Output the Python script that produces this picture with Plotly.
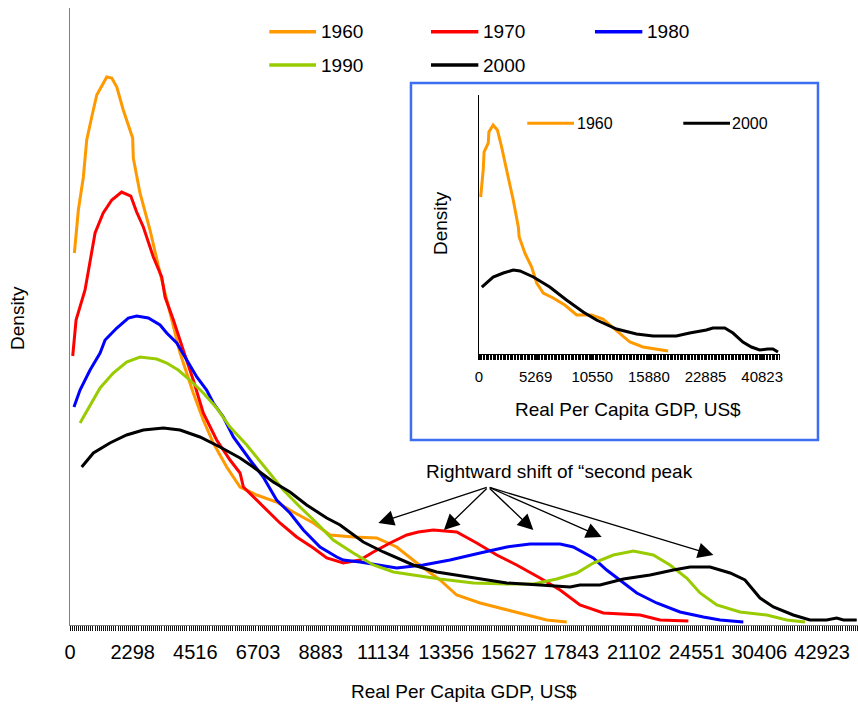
import plotly.graph_objects as go

# ---------------- data (main chart) ----------------
# x = position along the category axis (GDP category index), y = density (arbitrary units)
main_tick_pos = [0, 30, 60, 90, 120, 150, 180, 210, 240, 270, 300, 330, 360]
main_tick_labels = ["0", "2298", "4516", "6703", "8883", "11134", "13356",
                    "15627", "17843", "21102", "24551", "30406", "42923"]

x1960 = [2.1, 4.0, 6.4, 8.0, 10.4, 12.8, 17.6, 20.0, 22.4, 25.5, 30.0, 30.3, 33.5, 38.3,
         43.1, 47.9, 52.7, 59.0, 63.8, 68.6, 75.0, 81.4, 89.4, 98.9, 106.9, 116.5,
         124.5, 135.6, 146.8, 156.4, 166.0, 177.1, 185.1, 196.3, 209.1, 218.6, 228.2, 237.8]
y1960 = [372, 415, 448, 485, 508, 530, 548, 547, 538, 515, 487, 467, 432, 395,
         352, 312, 272, 232, 205, 182, 158, 138, 130, 123, 113, 102,
         90, 88, 87, 78, 62, 45, 30, 22, 15, 10, 5, 3]

x1970 = [1.3, 2.9, 7.2, 9.6, 12.0, 15.9, 20.0, 24.7, 29.1, 31.9, 35.1, 39.9, 43.9, 45.5,
         49.5, 54.2, 59.0, 63.8, 70.2, 76.6, 81.4, 83.0, 91.0, 100.5, 108.5, 116.5,
         122.9, 130.8, 138.8, 145.2, 153.2, 161.2, 166.7, 173.9, 185.1, 194.7, 204.3,
         213.8, 225.0, 234.6, 244.1, 255.3, 272.9, 282.4, 296.0]
y1970 = [269, 305, 335, 365, 392, 412, 425, 433, 429, 413, 398, 368, 348, 328,
         305, 275, 245, 212, 185, 165, 152, 138, 122, 102, 88, 77,
         67, 62, 65, 73, 82, 90, 93, 95, 93, 82, 70,
         60, 47, 35, 20, 12, 10, 5, 4]

x1980 = [1.9, 4.8, 9.6, 14.4, 16.8, 22.4, 27.9, 31.9, 37.5, 43.1, 46.3, 51.1, 55.9, 60.7,
         65.4, 68.6, 73.4, 78.2, 86.2, 92.5, 98.9, 105.3, 111.7, 119.7, 127.7, 130.8,
         138.8, 148.4, 156.4, 169.1, 181.9, 196.3, 209.1, 220.2, 234.6, 240.9, 250.5,
         256.9, 263.3, 271.3, 280.8, 292.0, 303.2, 311.2, 322.3]
y1980 = [218, 235, 255, 272, 285, 297, 307, 309, 307, 300, 292, 282, 265, 248,
         235, 222, 208, 188, 165, 148, 125, 112, 95, 78, 68, 65,
         63, 60, 57, 60, 65, 72, 78, 81, 81, 78, 67,
         55, 45, 32, 22, 13, 8, 5, 3]

x1990 = [4.8, 9.6, 14.4, 20.7, 27.1, 33.5, 41.5, 46.3, 51.8, 57.4, 63.8, 70.2, 76.6, 84.6,
         94.2, 102.1, 110.1, 118.1, 126.0, 135.6, 145.2, 154.8, 164.3, 177.1, 193.1,
         209.1, 221.8, 233.0, 242.6, 250.5, 260.1, 269.7, 279.2, 287.2, 295.2, 301.6,
         309.6, 320.7, 333.5, 343.1, 351.8]
y1990 = [202, 220, 237, 252, 263, 268, 266, 262, 255, 245, 232, 217, 198, 180,
         155, 135, 118, 102, 85, 72, 60, 53, 50, 46, 42,
         41, 41, 46, 52, 62, 70, 74, 70, 60, 47, 32,
         20, 13, 10, 5, 3]

x2000 = [5.6, 11.2, 19.1, 27.1, 35.1, 44.7, 52.7, 62.2, 71.8, 81.4, 87.7, 97.3, 105.3,
         113.3, 122.9, 129.3, 132.5, 140.4, 150.0, 161.2, 164.3, 175.5, 193.1, 209.1,
         225.0, 239.4, 244.1, 253.7, 264.9, 277.7, 288.8, 296.8, 306.4, 316.0, 323.1,
         330.3, 336.7, 346.2, 354.2, 362.2, 367.0, 370.2, 376.6]
y2000 = [158, 172, 182, 190, 195, 197, 195, 188, 178, 167, 158, 143, 133,
         120, 107, 100, 95, 83, 73, 63, 60, 53, 47, 42,
         40, 38, 40, 40, 46, 50, 55, 58, 58, 52, 45,
         27, 18, 10, 5, 5, 7, 5, 5]

# ---------------- data (inset) ----------------
inset_tick_pos = [0, 20, 40, 60, 80, 100]
inset_tick_labels = ["0", "5269", "10550", "15880", "22885", "40823"]

ix1960 = [0.6, 1.5, 1.8, 3.3, 3.5, 5.0, 6.5, 8.0, 10.3, 12.1, 13.9, 14.2, 16.2, 18.6,
          20.4, 22.7, 26.2, 30.3, 34.5, 39.7, 43.8, 46.2, 49.7, 53.3, 57.9, 62.7, 66.8]
iy1960 = [157, 184, 202, 211, 222, 229, 224, 207, 177, 154, 127, 117, 101, 87,
          71, 61, 56, 49, 39, 39, 35, 29, 21, 12, 7, 5, 3]

ix2000 = [1.0, 5.0, 8.6, 12.1, 14.5, 19.2, 25.0, 30.9, 36.8, 41.5, 48.6, 55.6, 61.5,
          69.7, 74.4, 80.3, 82.6, 86.8, 89.7, 93.2, 96.2, 99.1, 102.0, 103.8, 105.6]
iy2000 = [67, 77, 81, 84, 83, 77, 67, 54, 42, 34, 25, 20, 18,
          18, 21, 24, 26, 26, 21, 12, 7, 4, 5, 5, 2]

years = ["1960", "1970", "1980", "1990", "2000"]
colors = {"1960": "#FF9900", "1970": "#FF0000", "1980": "#0000FF",
          "1990": "#99CC00", "2000": "#000000"}
main_series = {"1960": (x1960, y1960), "1970": (x1970, y1970), "1980": (x1980, y1980),
               "1990": (x1990, y1990), "2000": (x2000, y2000)}
inset_series = {"1960": (ix1960, iy1960), "2000": (ix2000, iy2000)}

FONT = "Liberation Sans, Arial, sans-serif"

fig = go.Figure()
for yr in years:
    xs, ys = main_series[yr]
    fig.add_trace(go.Scatter(x=xs, y=ys, mode="lines", name=yr,
                             line=dict(color=colors[yr], width=3), showlegend=False,
                             xaxis="x", yaxis="y"))
for yr, (xs, ys) in inset_series.items():
    fig.add_trace(go.Scatter(x=xs, y=ys, mode="lines", name=yr,
                             line=dict(color=colors[yr], width=3), showlegend=False,
                             xaxis="x2", yaxis="y2"))

# plot geometry
W, H = 858, 709
L, R, T, B = 70, 0, 8, 84

shapes = []
annotations = []

# inset frame
shapes.append(dict(type="rect", xref="paper", yref="paper",
                   x0=0.4327, x1=0.9492, y0=0.2998, y1=0.8784,
                   line=dict(color="#3D6EF2", width=2.5), fillcolor="white", layer="below"))

# main legend (manual)
leg = [("1960", 0.2529, 0.3122, 0.3194, 0.9616),
       ("1970", 0.4581, 0.5182, 0.5258, 0.9616),
       ("1980", 0.6662, 0.7263, 0.7339, 0.9616),
       ("1990", 0.2529, 0.3122, 0.3194, 0.9076),
       ("2000", 0.4581, 0.5182, 0.5258, 0.9076)]
for yr, x0, x1, xt, yy in leg:
    shapes.append(dict(type="line", xref="paper", yref="paper", x0=x0, x1=x1, y0=yy, y1=yy,
                       line=dict(color=colors[yr], width=3.5)))
    annotations.append(dict(text=yr, xref="paper", yref="paper", x=xt, y=yy, xshift=-3,
                            xanchor="left", yanchor="middle", showarrow=False,
                            font=dict(size=19, color="black", family=FONT)))

# inset legend
ileg = [("1960", 0.5803, 0.6396, 0.6447, 0.8131),
        ("2000", 0.7783, 0.8376, 0.8410, 0.8131)]
for yr, x0, x1, xt, yy in ileg:
    shapes.append(dict(type="line", xref="paper", yref="paper", x0=x0, x1=x1, y0=yy, y1=yy,
                       line=dict(color=colors[yr], width=3)))
    annotations.append(dict(text=yr, xref="paper", yref="paper", x=xt, y=yy, xshift=-3,
                            xanchor="left", yanchor="middle", showarrow=False,
                            font=dict(size=16, color="black", family=FONT)))

# axis titles (as annotations for exact placement)
title_font = dict(size=19, color="black", family=FONT)
annotations += [
    dict(text="Real Per Capita GDP, US$", xref="paper", yref="paper", x=0.50, y=-0.107,
         xanchor="center", yanchor="middle", showarrow=False, font=title_font),
    dict(text="Density", xref="paper", yref="paper", x=-0.066, y=0.4976, textangle=-90,
         xanchor="center", yanchor="middle", showarrow=False, font=title_font),
    dict(text="Real Per Capita GDP, US$", xref="paper", yref="paper", x=0.7075, y=0.3485,
         xanchor="center", yanchor="middle", showarrow=False, font=title_font),
    dict(text="Density", xref="paper", yref="paper", x=0.4702, y=0.6507, textangle=-90,
         xanchor="center", yanchor="middle", showarrow=False, font=title_font),
]

# annotation text + arrows
annotations.append(dict(text="Rightward shift of “second peak", xref="paper", yref="paper",
                        x=0.6208, y=0.2485, xanchor="center", yanchor="middle",
                        showarrow=False, font=dict(size=19, color="black", family=FONT)))
arrow_tail = (200.2, 138)
arrow_heads = [(147.6, 102), (179.0, 95), (221.8, 95), (254.5, 88), (308.0, 70)]
for hx, hy in arrow_heads:
    annotations.append(dict(x=hx, y=hy, ax=arrow_tail[0], ay=arrow_tail[1],
                            xref="x", yref="y", axref="x", ayref="y", text="",
                            showarrow=True, arrowhead=2, arrowsize=2.4, arrowwidth=1.3,
                            arrowcolor="black", standoff=0))

fig.update_layout(
    width=W, height=H,
    margin=dict(l=L, r=R, t=T, b=B, autoexpand=False),
    paper_bgcolor="white", plot_bgcolor="rgba(0,0,0,0)",
    font=dict(family=FONT, color="black"),
    showlegend=False,
    shapes=shapes, annotations=annotations,
    xaxis=dict(domain=[0, 1], range=[0, 377.2], showgrid=False, zeroline=False,
               automargin=False,
               showline=True, linecolor="#808080", linewidth=1,
               tickmode="array", tickvals=main_tick_pos, ticktext=main_tick_labels,
               ticks="outside", ticklen=5, tickcolor="#000", tickwidth=1,
               ticklabelstandoff=4,
               tickfont=dict(size=20, family=FONT, color="black"),
               minor=dict(tickmode="linear", tick0=0, dtick=1, ticks="outside",
                          ticklen=5, tickcolor="#111", tickwidth=1.2)),
    yaxis=dict(domain=[0, 1], range=[0, 617], showgrid=False, zeroline=False,
               automargin=False,
               showline=True, linecolor="#808080", linewidth=1,
               showticklabels=False, ticks=""),
    xaxis2=dict(domain=[0.5190, 0.9010], anchor="y2", range=[0, 106.3],
                automargin=False,
                showgrid=False, zeroline=False, showline=True, linecolor="#000", linewidth=1,
                tickmode="array", tickvals=inset_tick_pos, ticktext=inset_tick_labels,
                ticks="outside", ticklen=5, tickcolor="#000", tickwidth=1.5,
                ticklabelstandoff=4,
                tickfont=dict(size=15, family=FONT, color="black"),
                minor=dict(tickmode="linear", tick0=0, dtick=0.5, ticks="outside",
                           ticklen=5, tickcolor="#000", tickwidth=1.2)),
    yaxis2=dict(domain=[0.4392, 0.8590], anchor="x2", range=[0, 259],
                automargin=False,
                showgrid=False, zeroline=False, showline=True, linecolor="#000", linewidth=1,
                showticklabels=False, ticks=""),
)

# remove the browser's default 8px page margin so the figure sits at the window origin
fig.write_html("out.html", config={"displayModeBar": False},
               post_script="document.body.style.margin='0';document.body.style.overflow='hidden';")
